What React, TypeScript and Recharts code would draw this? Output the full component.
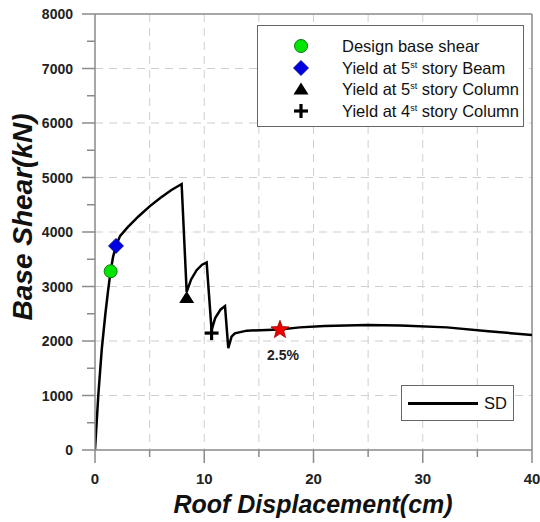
import React from 'react';
import {
  ComposedChart,
  Line,
  Scatter,
  XAxis,
  YAxis,
  CartesianGrid,
  ReferenceLine,
  Legend,
  LabelList,
  Label,
} from 'recharts';

// pushover curve, roof displacement (cm) vs base shear (kN)
const dispCm = [
  0, 0.3, 0.62, 0.95, 1.2, 1.43, 1.65, 1.92, 2.3, 3.0, 4.0, 5.0, 6.0, 7.0, 7.93,
  8.39, 8.8, 9.3, 9.8, 10.22, 10.67, 11.0, 11.5, 11.9, 12.2, 12.5, 12.8,
  13.9, 16.9, 18.75, 21, 24.9, 28, 32.2, 36, 40,
];
const shearKn = [
  0, 1000, 1850, 2500, 2930, 3280, 3540, 3750, 3930, 4090, 4290, 4470, 4630, 4770, 4880,
  2900, 3130, 3300, 3400, 3440, 2200, 2420, 2580, 2640, 1870, 2080, 2140,
  2190, 2210, 2250, 2275, 2295, 2285, 2250, 2180, 2110,
];

const xTicks = [0, 5, 10, 15, 20, 25, 30, 35, 40];
const yTicks = [0, 500, 1000, 1500, 2000, 2500, 3000, 3500, 4000, 4500, 5000, 5500, 6000, 6500, 7000, 7500, 8000];
const xGrid = [5, 10, 15, 20, 25, 30, 35];
const yGrid = [1000, 2000, 3000, 4000, 5000, 6000, 7000];

const designShear = [{ x: 1.43, y: 3280 }];
const beamYield5 = [{ x: 1.92, y: 3745 }];
const columnYield5 = [{ x: 8.39, y: 2800 }];
const columnYield4 = [{ x: 10.67, y: 2145 }];
const driftPoint = [{ x: 16.93, y: 2205, label: '2.5%' }];

const seriesName = 'SD';
const legendLabels = [
  { kind: 'circle', text: 'Design base shear' },
  { kind: 'diamond', text: 'Yield at 5', sup: 'st', rest: ' story Beam' },
  { kind: 'triangle', text: 'Yield at 5', sup: 'st', rest: ' story Column' },
  { kind: 'cross', text: 'Yield at 4', sup: 'st', rest: ' story Column' },
];

const curve = dispCm.map((x, i) => ({ x, y: shearKn[i] }));

const FONT = '"Liberation Sans", Arial, sans-serif';
const AXIS = '#8a8a8a';

const Marker = ({ kind, cx, cy }: { kind: string; cx: number; cy: number }) => {
  if (kind === 'circle') {
    return <circle cx={cx} cy={cy} r={6.5} fill="#00e600" stroke="#117711" strokeWidth={1} />;
  }
  if (kind === 'diamond') {
    const r = 7.5;
    return (
      <polygon
        points={`${cx},${cy - r} ${cx + r},${cy} ${cx},${cy + r} ${cx - r},${cy}`}
        fill="#0000e0"
        stroke="#000088"
        strokeWidth={0.8}
      />
    );
  }
  if (kind === 'triangle') {
    return <polygon points={`${cx},${cy - 6.5} ${cx + 7.5},${cy + 5.5} ${cx - 7.5},${cy + 5.5}`} fill="#000" />;
  }
  if (kind === 'cross') {
    return (
      <g stroke="#000" strokeWidth={3.2}>
        <line x1={cx - 7} x2={cx + 7} y1={cy} y2={cy} />
        <line x1={cx} x2={cx} y1={cy - 7} y2={cy + 7} />
      </g>
    );
  }
  // star
  const pts: string[] = [];
  for (let i = 0; i < 10; i++) {
    const r = i % 2 === 0 ? 9.5 : 4;
    const a = -Math.PI / 2 + (i * Math.PI) / 5;
    pts.push(`${cx + r * Math.cos(a)},${cy + r * Math.sin(a)}`);
  }
  return <polygon points={pts.join(' ')} fill="#ee0000" stroke="#990000" strokeWidth={0.8} />;
};

const YTick = (props: any) => {
  const { x, y, payload } = props;
  const major = payload.value % 1000 === 0;
  return (
    <g>
      <line x1={x} x2={x - (major ? 13 : 8)} y1={y} y2={y} stroke={AXIS} strokeWidth={1.5} />
      {major && (
        <text x={x - 22} y={y} textAnchor="end" dominantBaseline="central" fontFamily={FONT} fontWeight="bold" fontSize={14} fill="#222">
          {payload.value}
        </text>
      )}
    </g>
  );
};

const XTick = (props: any) => {
  const { x, y, payload } = props;
  const major = payload.value % 10 === 0;
  return (
    <g>
      <line x1={x} x2={x} y1={y} y2={y + (major ? 13 : 7)} stroke={AXIS} strokeWidth={1.5} />
      {major && (
        <text x={x} y={y + 28} textAnchor="middle" dominantBaseline="central" fontFamily={FONT} fontWeight="bold" fontSize={15} fill="#222">
          {payload.value}
        </text>
      )}
    </g>
  );
};

const LegendBoxes = () => (
  <div style={{ position: 'relative', width: 540, height: 522, fontFamily: FONT, color: '#111' }}>
    <div
      style={{
        position: 'absolute',
        left: 257,
        top: 25,
        width: 267,
        height: 102,
        background: '#fff',
        border: '1px solid #666',
        boxSizing: 'border-box',
      }}
    >
      {legendLabels.map((item, i) => (
        <div key={i} style={{ position: 'absolute', left: 0, top: 10 + i * 21.7, height: 20, width: 266 }}>
          <svg width={30} height={20} style={{ position: 'absolute', left: 28, top: 0 }}>
            <Marker kind={item.kind} cx={15} cy={10} />
          </svg>
          <span style={{ position: 'absolute', left: 84, top: 0, fontSize: 16.5, lineHeight: '20px', whiteSpace: 'nowrap' }}>
            {item.text}
            {item.sup && <sup style={{ fontSize: 9, verticalAlign: 'top', lineHeight: '14px' }}>{item.sup}</sup>}
            {item.rest}
          </span>
        </div>
      ))}
    </div>
    <div
      style={{
        position: 'absolute',
        left: 401,
        top: 385,
        width: 113,
        height: 36,
        background: '#fff',
        border: '1px solid #666',
        boxSizing: 'border-box',
      }}
    >
      <div style={{ position: 'absolute', left: 6, top: 16, width: 70, height: 2.5, background: '#000' }} />
      <span style={{ position: 'absolute', left: 82, top: 7, fontSize: 16.5, lineHeight: '20px' }}>{seriesName}</span>
    </div>
  </div>
);

export default function App() {
  return (
    <div style={{ position: 'absolute', left: 0, top: 0, background: '#fff' }}>
      <ComposedChart width={540} height={522} margin={{ top: 14, right: 8, left: 0, bottom: 0 }}>
        <CartesianGrid
          horizontalValues={yGrid}
          verticalValues={xGrid}
          stroke="#cfcfcf"
          strokeDasharray="8 6"
          strokeWidth={1}
        />
        <XAxis
          type="number"
          dataKey="x"
          domain={[0, 40]}
          ticks={xTicks}
          allowDataOverflow
          height={72}
          tickSize={0}
          tickMargin={0}
          tickLine={false}
          tick={<XTick />}
          axisLine={{ stroke: AXIS, strokeWidth: 1.5 }}
          interval={0}
        >
          <Label
            content={() => (
              <text x={313} y={504} textAnchor="middle" dominantBaseline="central" fontFamily={FONT} fontWeight="bold" fontStyle="italic" fontSize={25} fill="#111">
                Roof Displacement(cm)
              </text>
            )}
          />
        </XAxis>
        <YAxis
          type="number"
          dataKey="y"
          domain={[0, 8000]}
          ticks={yTicks}
          allowDataOverflow
          width={95}
          tickSize={0}
          tickMargin={0}
          tickLine={false}
          tick={<YTick />}
          axisLine={{ stroke: AXIS, strokeWidth: 1.5 }}
          interval={0}
        >
          <Label
            content={() => (
              <text x={22} y={217} transform="rotate(-90 22 217)" textAnchor="middle" dominantBaseline="central" fontFamily={FONT} fontWeight="bold" fontStyle="italic" fontSize={28} fill="#111">
                Base Shear(kN)
              </text>
            )}
          />
        </YAxis>
        <ReferenceLine y={8000} stroke={AXIS} strokeWidth={1.5} />
        <ReferenceLine x={40} stroke={AXIS} strokeWidth={1.5} />
        <Line
          data={curve}
          dataKey="y"
          name={seriesName}
          type="linear"
          stroke="#000"
          strokeWidth={2.5}
          dot={false}
          isAnimationActive={false}
        />
        <Scatter data={designShear} dataKey="y" isAnimationActive={false} shape={(p: any) => <Marker kind="circle" cx={p.cx} cy={p.cy} />} />
        <Scatter data={beamYield5} dataKey="y" isAnimationActive={false} shape={(p: any) => <Marker kind="diamond" cx={p.cx} cy={p.cy} />} />
        <Scatter data={columnYield5} dataKey="y" isAnimationActive={false} shape={(p: any) => <Marker kind="triangle" cx={p.cx} cy={p.cy} />} />
        <Scatter data={columnYield4} dataKey="y" isAnimationActive={false} shape={(p: any) => <Marker kind="cross" cx={p.cx} cy={p.cy} />} />
        <Scatter data={driftPoint} dataKey="y" isAnimationActive={false} shape={(p: any) => <Marker kind="star" cx={p.cx} cy={p.cy} />}>
          <LabelList
            dataKey="label"
            content={(p: any) => (
              <text x={p.x + p.width / 2 + 3} y={p.y + p.height / 2 + 25} textAnchor="middle" dominantBaseline="central" fontFamily={FONT} fontWeight="bold" fontSize={14} fill="#222">
                {p.value}
              </text>
            )}
          />
        </Scatter>
        <Legend
          layout="vertical"
          align="center"
          verticalAlign="middle"
          wrapperStyle={{ left: 0, top: 0, width: 540, height: 522, pointerEvents: 'none' }}
          content={() => <LegendBoxes />}
        />
      </ComposedChart>
    </div>
  );
}
